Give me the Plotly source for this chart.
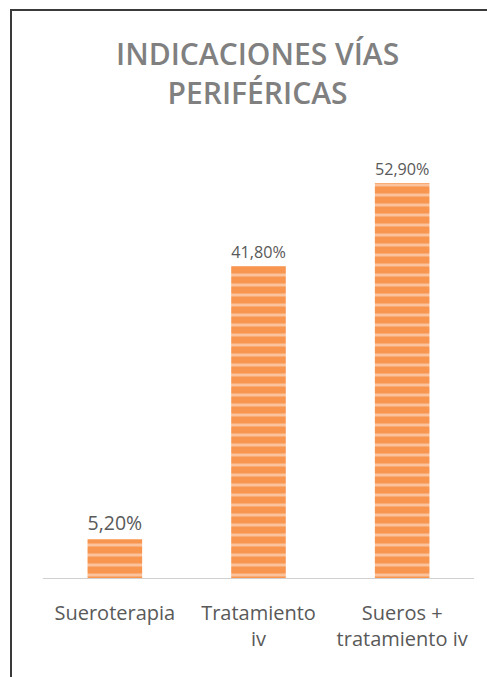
import plotly.graph_objects as go

categories = ["Sueroterapia", "Tratamiento<br>iv", "Sueros +<br>tratamiento iv"]
values = [5.2, 41.8, 52.9]
labels = ["5,20%", "41,80%", "52,90%"]
title_text = "INDICACIONES VÍAS<br>PERIFÉRICAS"

W, H = 487, 677
ML, MR, MT, MB = 43, 13, 130, 99
pw = W - ML - MR
ph = H - MT - MB

fig = go.Figure(
    go.Bar(
        x=categories,
        y=values,
        text=labels,
        textposition="outside",
        textfont=dict(family="Open Sans", size=20, color="#595959"),
        cliponaxis=False,
        marker=dict(
            color="#F8954F",
            line=dict(width=0),
            pattern=dict(shape="-", size=10, solidity=0.3,
                         bgcolor="#F8954F", fgcolor="#FBC29B",
                         fillmode="replace"),
        ),
        hoverinfo="skip",
    )
)

# outer frame (left and top edges only, the rest runs off the picture)
fx0 = (11 - ML) / pw
fx1 = (W + 20 - ML) / pw
fy0 = (H - MB - (H + 20)) / ph
fy1 = (H - MB - 10) / ph
fig.add_shape(
    type="path", xref="paper", yref="paper",
    path=f"M {fx0},{fy0} L {fx0},{fy1} L {fx1},{fy1}",
    line=dict(color="#3a3a3a", width=2),
    layer="above",
)

# title
fig.add_annotation(
    text=title_text, xref="paper", yref="paper",
    x=(257 - ML) / pw, y=(H - MB - 73) / ph,
    xanchor="center", yanchor="middle", showarrow=False, align="center",
    font=dict(family="Open Sans", size=30, color="#808080", weight=600),
)

fig.update_layout(
    width=W, height=H,
    margin=dict(l=ML, r=MR, t=MT, b=MB),
    paper_bgcolor="white", plot_bgcolor="white",
    bargap=0.62,
    showlegend=False,
    xaxis=dict(
        showline=True, linecolor="#d0d0d0", linewidth=1,
        showgrid=False, zeroline=False, ticks="",
        tickfont=dict(family="Open Sans", size=20, color="#595959"),
        ticklabelstandoff=17,
    ),
    yaxis=dict(range=[0, 60], visible=False, showgrid=False, zeroline=False),
)

fig.write_html(
    "out.html",
    config={"displayModeBar": False},
    post_script=(
        "document.documentElement.style.margin='0';"
        "document.documentElement.style.overflow='hidden';"
        "document.body.style.margin='0';"
        "document.body.style.overflow='hidden';"
    ),
)
